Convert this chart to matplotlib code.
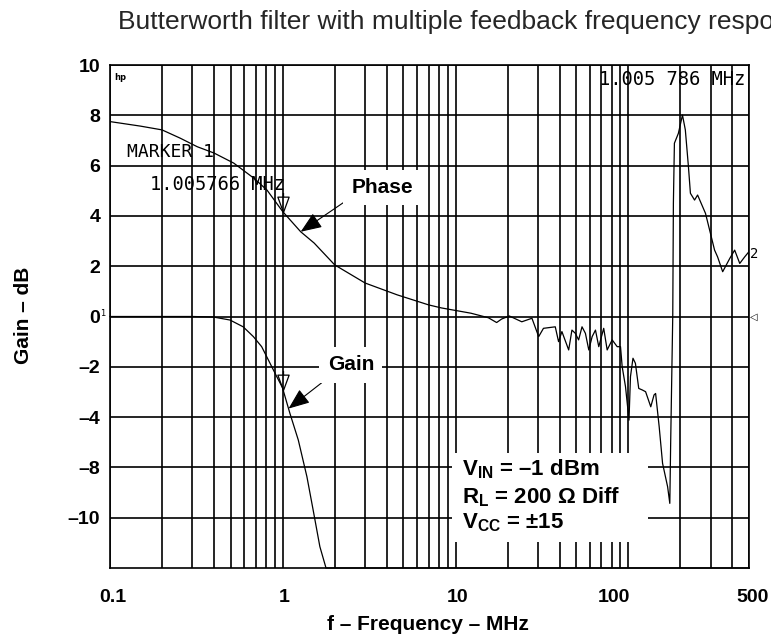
import numpy as np
import matplotlib
matplotlib.use("Agg")
import matplotlib.pyplot as plt
from matplotlib.path import Path
from matplotlib.patches import Rectangle
from matplotlib.ticker import LogLocator, NullFormatter, NullLocator

# ---------------- data ----------------
phase_freq_mhz = [0.1, 0.15, 0.2, 0.255, 0.32, 0.4, 0.52, 0.68, 0.81, 1.0, 1.27, 1.52, 2.0, 3.0,
                  4.6, 7.0, 8.3, 12.3, 15.5, 17.3, 18.5, 20.5, 24.2, 27.7, 30.3, 32.3, 37.8,
                  39.5, 41.3, 45.2, 47.2, 49.4, 51.6, 54.0, 56.5, 59.1, 61.8, 64.6, 67.5, 72.1,
                  75.5, 80.7, 86.3, 90.2, 92.2, 96.4, 101, 103, 106.5, 110, 115, 120.5, 126,
                  135, 141, 144, 151, 158, 169, 174, 176, 181, 182.5, 185, 195, 206, 214, 223,
                  229, 242, 252, 280, 316, 329, 352, 387, 413, 442, 472, 500]
phase_div = [7.75, 7.57, 7.42, 7.09, 6.75, 6.50, 6.10, 5.50, 5.03, 4.17, 3.37, 2.92, 2.05, 1.33,
             0.86, 0.46, 0.34, 0.13, -0.05, -0.24, -0.10, 0.02, -0.21, -0.07, -0.80, -0.47, -0.41,
             -1.00, -0.60, -1.33, -0.54, -0.67, -0.93, -0.41, -0.67, -1.33, -0.80, -0.54, -1.20, -0.47,
             -1.33, -0.93, -1.20, -1.20, -1.99, -2.79, -4.12, -2.39, -1.66, -1.86, -2.86, -2.92, -2.99,
             -3.59, -3.12, -3.06, -4.38, -5.84, -6.77, -7.43, -5.04, 0.06, 4.50, 6.89, 7.28, 8.01, 7.42, 5.96,
             4.90, 4.63, 4.83, 4.10, 2.64, 2.37, 1.78, 2.31, 2.64, 2.11, 2.37, 2.58]

gain_freq_mhz = [0.1, 0.3, 0.396, 0.495, 0.59, 0.676, 0.755, 0.844, 0.923, 0.995, 1.10, 1.23,
                 1.38, 1.50, 1.64, 1.78, 500]
gain_div = [0.0, 0.0, -0.02, -0.14, -0.41, -0.80, -1.20, -1.86, -2.39, -2.82, -3.85, -4.91,
            -6.37, -7.70, -9.15, -10.0, -10.0]

x_ticks = [0.1, 1, 10, 100, 500]
x_tick_labels = ["0.1", "1", "10", "100", "500"]
x_tick_shift_px = [3, 1, 2, -14, 4]
y_ticks = [10, 8, 6, 4, 2, 0, -2, -4, -6, -8]
y_tick_labels = ["10", "8", "6", "4", "2", "0", "–2", "–4", "–8", "–10"]
marker_freq = 1.005786
phase_arrow_freq = 1.27
gain_arrow_freq = 1.08

# ---------------- style ----------------
plt.rcParams["font.family"] = ["Liberation Sans", "DejaVu Sans"]
plt.rcParams["mathtext.fontset"] = "custom"
plt.rcParams["mathtext.rm"] = "Liberation Sans"
plt.rcParams["mathtext.bf"] = "Liberation Sans:bold"
plt.rcParams["mathtext.it"] = "Liberation Sans:italic"

W, H = 771, 637
fig = plt.figure(figsize=(W / 100, H / 100), dpi=100)
ax = fig.add_axes([110 / W, 1 - 568 / H, 639 / W, 503 / H])
ax.set_xscale("log")
ax.set_xlim(0.1, 500)
ax.set_ylim(-10, 10)

ax.xaxis.set_major_locator(LogLocator(base=10, numticks=20))
ax.xaxis.set_minor_locator(LogLocator(base=10, subs=np.arange(2, 10), numticks=50))
ax.xaxis.set_major_formatter(NullFormatter())
ax.xaxis.set_minor_formatter(NullFormatter())
ax.set_yticks(y_ticks, y_tick_labels)
ax.yaxis.set_minor_locator(NullLocator())
ax.tick_params(axis="both", which="both", length=0)
ax.tick_params(axis="y", pad=7, labelsize=14)
for lbl in ax.get_yticklabels():
    lbl.set_fontweight("bold")

ax.grid(True, which="both", axis="x", color="black", lw=1.2)
ax.grid(True, which="major", axis="y", color="black", lw=1.2)
ax.set_axisbelow(True)
for sp in ax.spines.values():
    sp.set_color("black")
    sp.set_linewidth(1.2)

# x tick labels
for v, lab, dx in zip(x_ticks, x_tick_labels, x_tick_shift_px):
    ax.annotate(lab, xy=(v, 0), xycoords=("data", "axes fraction"), xytext=(dx, -30),
                textcoords="offset pixels", ha="center", va="center", fontsize=14,
                fontweight="bold", annotation_clip=False)

# ---------------- traces ----------------
ax.plot(phase_freq_mhz, phase_div, color="black", lw=0.9, zorder=3)
ax.plot(gain_freq_mhz, gain_div, color="black", lw=0.9, zorder=3, clip_on=False)

lp = np.log10(phase_freq_mhz)
lg = np.log10(gain_freq_mhz)
def phase_at(f):
    return np.interp(np.log10(f), lp, phase_div)
def gain_at(f):
    return np.interp(np.log10(f), lg, gain_div)

# HP style marker: inverted triangle with apex on the trace and a small stem on top
tri = Path([(0, 0), (-5.5, 15), (5.5, 15), (0, 0), (0, 15), (0, 19)],
           [Path.MOVETO, Path.LINETO, Path.LINETO, Path.CLOSEPOLY, Path.MOVETO, Path.LINETO])
for yv in (phase_at(marker_freq), gain_at(marker_freq)):
    ax.plot([marker_freq], [yv], ls="none", marker=tri, ms=28, mfc="none", mec="black",
            mew=0.9, zorder=4)

# ---------------- instrument texts ----------------
mono = "DejaVu Sans Mono"
ax.text(0.006, 0.985, "hp", transform=ax.transAxes, fontsize=6, fontweight="bold",
        family="DejaVu Sans", ha="left", va="top")
ax.text(0.994, 0.972, "1.005 786 MHz", transform=ax.transAxes, fontsize=13.5, family=mono,
        ha="right", va="center", zorder=5)
ax.text(0.0266, 0.827, "MARKER 1", transform=ax.transAxes, fontsize=13, family=mono,
        ha="left", va="center", zorder=5)
ax.text(0.0626, 0.763, "1.005766 MHz", transform=ax.transAxes, fontsize=13.5, family=mono,
        ha="left", va="center", zorder=5)
ax.annotate("2", xy=(phase_freq_mhz[-1], phase_div[-1]), xytext=(1, -2), textcoords="offset pixels",
            fontsize=10, family=mono, ha="left", va="center", annotation_clip=False)
ax.annotate("◁", xy=(1.0, 0), xycoords=("axes fraction", "data"), xytext=(1, 0),
            textcoords="offset pixels", fontsize=7, family="DejaVu Sans", ha="left",
            va="center", annotation_clip=False)
ax.annotate("1", xy=(0.0, 0), xycoords=("axes fraction", "data"), xytext=(-7, 3),
            textcoords="offset pixels", fontsize=6, family="DejaVu Sans", ha="center",
            va="center", annotation_clip=False)

# ---------------- callouts ----------------
arrow = dict(arrowstyle="-|>,head_length=0.5,head_width=0.2", mutation_scale=26,
             color="black", lw=0.8, shrinkA=0, shrinkB=0)
ax.annotate("Phase", xy=(phase_arrow_freq, phase_at(phase_arrow_freq)), xycoords="data",
            xytext=(0.4264, 0.7565), textcoords="axes fraction", ha="center", va="center",
            fontsize=15, fontweight="bold",
            bbox=dict(boxstyle="square,pad=0.4", fc="white", ec="none"),
            arrowprops=dict(arrow, relpos=(0.0, 0.0)), zorder=5)
ax.annotate("Gain", xy=(gain_arrow_freq, gain_at(gain_arrow_freq)), xycoords="data",
            xytext=(0.377, 0.4036), textcoords="axes fraction", ha="center", va="center",
            fontsize=15, fontweight="bold",
            bbox=dict(boxstyle="square,pad=0.4", fc="white", ec="none"),
            arrowprops=dict(arrow, relpos=(0.1, 0.0)), zorder=5)

ax.add_patch(Rectangle((0.535, 0.052), 0.307, 0.177, transform=ax.transAxes,
                       fc="white", ec="none", zorder=4))
cond_lines = [r"$\mathbf{V_{IN}}$ = –1 dBm", r"$\mathbf{R_{L}}$ = 200 Ω Diff",
              r"$\mathbf{V_{CC}}$ = ±15"]
for txt, yb in zip(cond_lines, [0.185, 0.129, 0.0795]):
    ax.text(0.551, yb, txt, transform=ax.transAxes, fontsize=16, fontweight="bold",
            ha="left", va="baseline", zorder=5)

# ---------------- labels / title ----------------
fig.text(24 / W, 1 - 315 / H, "Gain – dB", rotation=90, ha="center", va="center",
         fontsize=15, fontweight="bold")
fig.text(428 / W, 1 - 624 / H, "f – Frequency – MHz", ha="center", va="center",
         fontsize=15, fontweight="bold")
fig.text(118 / W, 1 - 29 / H, "Butterworth filter with multiple feedback frequency response",
         ha="left", va="baseline", fontsize=19, color="#262626")

fig.savefig("out.png", dpi=100)
